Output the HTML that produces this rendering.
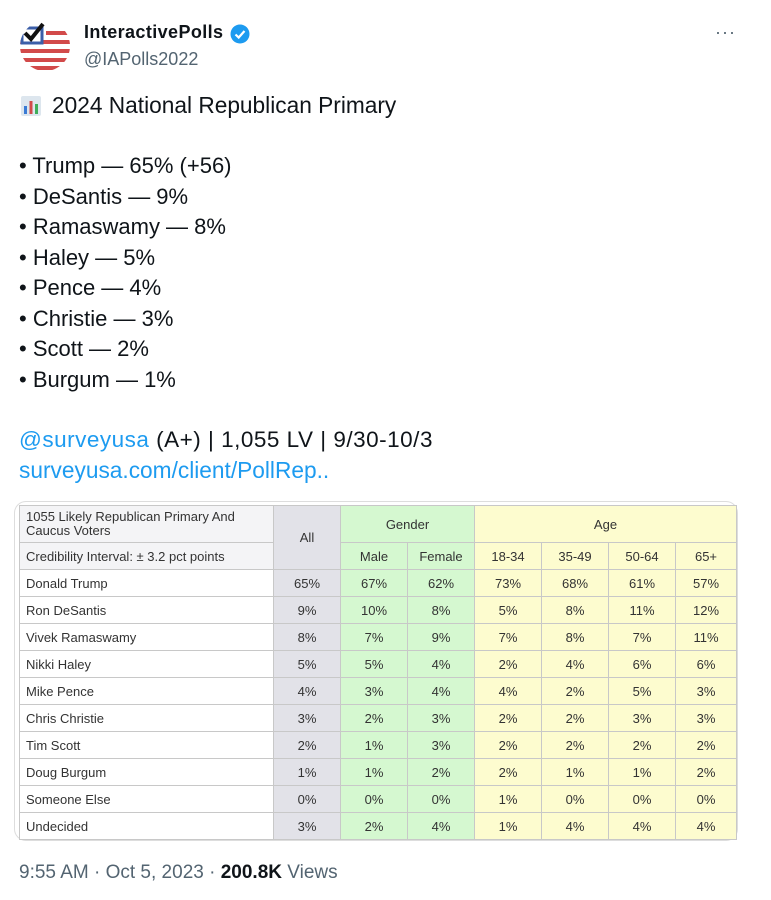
<!DOCTYPE html>
<html><head><meta charset="utf-8"><style>
*{margin:0;padding:0;box-sizing:border-box}
body{width:771px;height:900px;background:#fff;font-family:"Liberation Sans",Arial,sans-serif;color:#0f1419;position:relative;overflow:hidden}
.a{position:absolute;white-space:nowrap}
.tx{font-size:22px;line-height:30.5px}
table{position:absolute;left:19px;top:505px;border-collapse:collapse;table-layout:fixed;font-size:13px;color:#333}
td{border:1px solid #c8c8c8;height:27px;text-align:center;padding:0}
td.l{text-align:left;padding-left:6px}
.g{background:#e2e2e8}.gr{background:#d5f8d0}.y{background:#fdfccf}.w{background:#fff}.h{background:#f4f4f6}
</style></head><body>
<div class="a" style="left:20px;top:21px;width:50px;height:50px;border-radius:50%;overflow:hidden;background:#fff">
<svg width="50" height="50" viewBox="0 0 50 50">
<rect x="0" y="19" width="50" height="4" fill="#d24a4a"/><rect x="0" y="28" width="50" height="4" fill="#d24a4a"/><rect x="0" y="37" width="50" height="4" fill="#d24a4a"/><rect x="0" y="45" width="50" height="4" fill="#d24a4a"/><rect x="26" y="10" width="24" height="4" fill="#d24a4a"/>
<rect x="2" y="7" width="20" height="15" fill="#fff" stroke="#3b5ea8" stroke-width="3"/>
<path d="M5 12 L11 18 L23 3" stroke="#111" stroke-width="4" fill="none"/>
</svg></div>
<div class="a" style="left:84px;top:22px;font-size:18px;font-weight:bold;letter-spacing:0.4px">InteractivePolls</div>
<svg class="a" style="left:230px;top:24px" width="20" height="20" viewBox="0 0 20 20"><circle cx="10" cy="10" r="9.5" fill="#1d9bf0"/><path d="M5.5 10.5 L8.7 13.5 L14.5 7" stroke="#fff" stroke-width="2.2" fill="none"/></svg>
<div class="a" style="left:84px;top:49px;font-size:18px;color:#536471">@IAPolls2022</div>
<div class="a" style="left:715px;top:22px;font-size:18px;color:#536471;letter-spacing:1px">···</div>
<svg class="a" style="left:21px;top:96px" width="20" height="20"><rect width="20" height="20" rx="2" fill="#dde6ee"/><rect x="3" y="10" width="3" height="8" fill="#3b7bd4"/><rect x="8.5" y="5" width="3" height="13" fill="#d24a4a"/><rect x="14" y="8" width="3" height="10" fill="#3fae5a"/></svg>
<div class="a tx" style="left:52px;top:90px;font-size:22.7px">2024 National Republican Primary</div>
<div class="a tx" style="left:19px;top:151px">• Trump — 65% (+56)<br>• DeSantis — 9%<br>• Ramaswamy — 8%<br>• Haley — 5%<br>• Pence — 4%<br>• Christie — 3%<br>• Scott — 2%<br>• Burgum — 1%</div>
<div class="a tx" style="left:19px;top:425px;font-size:22.5px;letter-spacing:0.5px"><span style="color:#1d9bf0">@surveyusa</span> (A+) | 1,055 LV | 9/30-10/3</div>
<div class="a tx" style="left:19px;top:455px;color:#1d9bf0;font-size:22.7px">surveyusa.com/client/PollRep..</div>
<div class="a" style="left:14px;top:501px;width:724px;height:340px;border:1px solid #ddd;border-radius:12px"></div>
<table>
<colgroup><col style="width:254px"><col style="width:67px"><col style="width:67px"><col style="width:67px"><col style="width:67px"><col style="width:67px"><col style="width:67px"><col style="width:61px"></colgroup>
<tr style="height:37px"><td class="l h" style="line-height:14px">1055 Likely Republican Primary And<br>Caucus Voters</td><td class="g" rowspan="2">All</td><td class="gr" colspan="2">Gender</td><td class="y" colspan="4">Age</td></tr>
<tr style="height:26px"><td class="l h">Credibility Interval: ± 3.2 pct points</td><td class="gr">Male</td><td class="gr">Female</td><td class="y">18-34</td><td class="y">35-49</td><td class="y">50-64</td><td class="y">65+</td></tr>
<tr><td class="l w">Donald Trump</td><td class="g">65%</td><td class="gr">67%</td><td class="gr">62%</td><td class="y">73%</td><td class="y">68%</td><td class="y">61%</td><td class="y">57%</td></tr>
<tr><td class="l w">Ron DeSantis</td><td class="g">9%</td><td class="gr">10%</td><td class="gr">8%</td><td class="y">5%</td><td class="y">8%</td><td class="y">11%</td><td class="y">12%</td></tr>
<tr><td class="l w">Vivek Ramaswamy</td><td class="g">8%</td><td class="gr">7%</td><td class="gr">9%</td><td class="y">7%</td><td class="y">8%</td><td class="y">7%</td><td class="y">11%</td></tr>
<tr><td class="l w">Nikki Haley</td><td class="g">5%</td><td class="gr">5%</td><td class="gr">4%</td><td class="y">2%</td><td class="y">4%</td><td class="y">6%</td><td class="y">6%</td></tr>
<tr><td class="l w">Mike Pence</td><td class="g">4%</td><td class="gr">3%</td><td class="gr">4%</td><td class="y">4%</td><td class="y">2%</td><td class="y">5%</td><td class="y">3%</td></tr>
<tr><td class="l w">Chris Christie</td><td class="g">3%</td><td class="gr">2%</td><td class="gr">3%</td><td class="y">2%</td><td class="y">2%</td><td class="y">3%</td><td class="y">3%</td></tr>
<tr><td class="l w">Tim Scott</td><td class="g">2%</td><td class="gr">1%</td><td class="gr">3%</td><td class="y">2%</td><td class="y">2%</td><td class="y">2%</td><td class="y">2%</td></tr>
<tr><td class="l w">Doug Burgum</td><td class="g">1%</td><td class="gr">1%</td><td class="gr">2%</td><td class="y">2%</td><td class="y">1%</td><td class="y">1%</td><td class="y">2%</td></tr>
<tr><td class="l w">Someone Else</td><td class="g">0%</td><td class="gr">0%</td><td class="gr">0%</td><td class="y">1%</td><td class="y">0%</td><td class="y">0%</td><td class="y">0%</td></tr>
<tr><td class="l w">Undecided</td><td class="g">3%</td><td class="gr">2%</td><td class="gr">4%</td><td class="y">1%</td><td class="y">4%</td><td class="y">4%</td><td class="y">4%</td></tr>
</table>
<div class="a" style="left:19px;top:862px;font-size:19px;color:#536471">9:55 AM · Oct 5, 2023 · <b style="color:#0f1419">200.8K</b> Views</div>
</body></html>
